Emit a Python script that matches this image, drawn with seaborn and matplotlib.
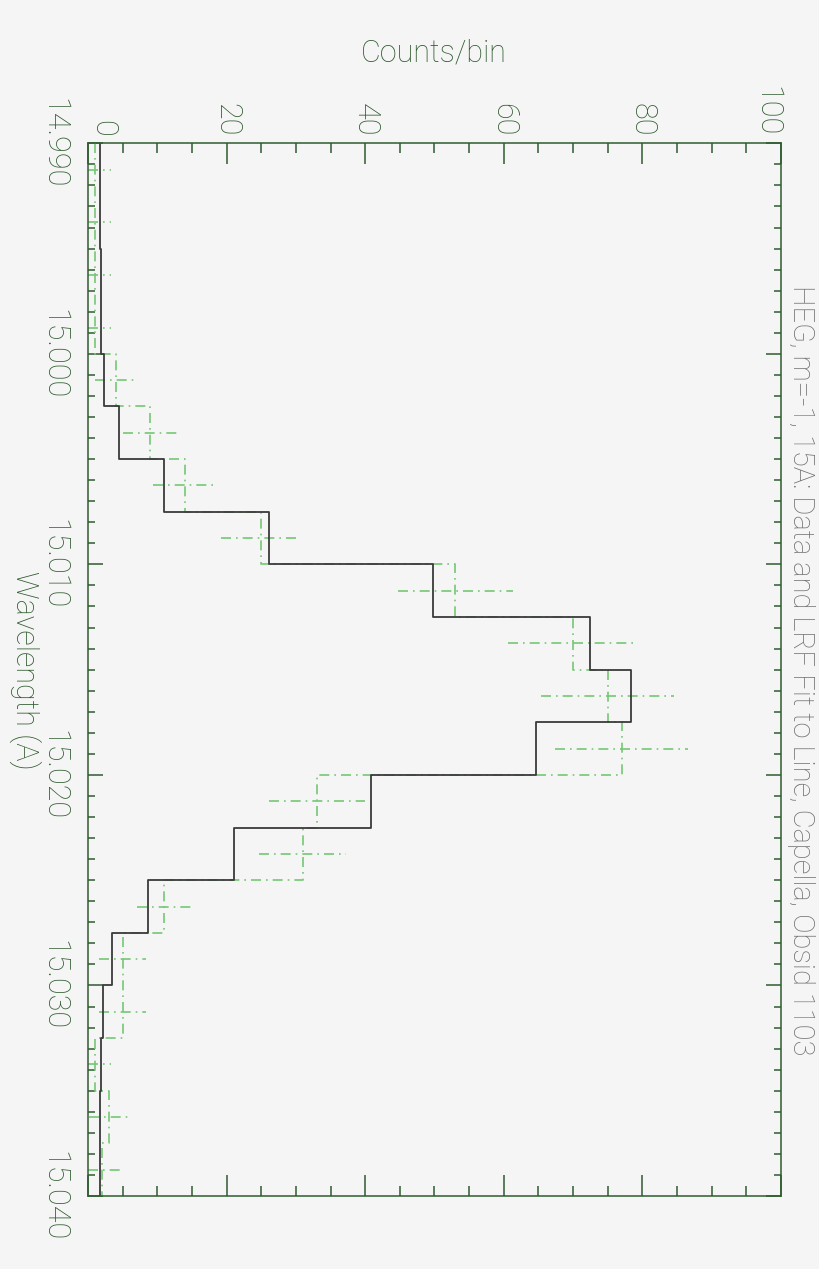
import numpy as np
import seaborn as sns
import matplotlib.pyplot as plt
from matplotlib.ticker import MultipleLocator

# wavelength bin edges (A), 0.0025 A bins
wl_edges = [14.990, 14.9925, 14.995, 14.9975, 15.000, 15.0025, 15.005, 15.0075,
            15.010, 15.0125, 15.015, 15.0175, 15.020, 15.0225, 15.025, 15.0275,
            15.030, 15.0325, 15.035, 15.0375, 15.040]

# observed counts per bin and their error bar half widths
data_counts = [1, 1, 1, 1, 4, 9, 14, 25, 53, 70, 75, 77, 33, 31, 11, 5, 5, 1, 3, 2]
data_err = [2.3, 2.3, 2.3, 2.3, 3.0, 4.0, 4.6, 5.8, 8.3, 9.4, 9.6, 9.6, 6.9, 6.3,
            4.0, 3.4, 3.4, 2.3, 2.9, 2.6]

# LRF model fit
model_counts = [1.7, 1.7, 1.9, 1.9, 2.35, 4.5, 11.0, 26.1, 49.8, 72.4, 78.4, 64.7,
                40.8, 21.0, 8.7, 3.4, 2.1, 1.9, 1.75, 1.75]

count_ticks = [0, 20, 40, 60, 80, 100]
wl_ticks = [14.990, 15.000, 15.010, 15.020, 15.030, 15.040]

title = "HEG, m=-1, 15A: Data and LRF Fit to Line, Capella, Obsid 1103"

axis_green = "#2f5c2f"
data_green = "#74c874"
bg = "#f5f5f5"

sns.set_theme(style="ticks", rc={"figure.facecolor": bg, "axes.facecolor": bg,
                                 "axes.edgecolor": axis_green, "axes.linewidth": 1.1})
plt.rcParams["font.family"] = ["Roboto", "DejaVu Sans"]
plt.rcParams["font.weight"] = "light"

fig = plt.figure(figsize=(8.2, 12.69), dpi=100)
ax = fig.add_axes([88 / 820, 1 - 1196 / 1269, 693 / 820, 1052.7 / 1269])

edges = np.array(wl_edges)
centers = (edges[:-1] + edges[1:]) / 2
dash_dot = (0, (6, 3, 1, 3))

# data: dash-dot histogram plus horizontal error bars
sns.lineplot(x=data_counts + data_counts[-1:], y=wl_edges, sort=False, estimator=None,
             drawstyle="steps-pre", color=data_green, lw=1.2, linestyle=dash_dot, ax=ax)
cnt = np.array(data_counts, dtype=float)
err = np.array(data_err)
ax.hlines(centers, np.clip(cnt - err, 0, None), cnt + err, colors=data_green,
          linestyles=[dash_dot], lw=1.2)

# model
sns.lineplot(x=model_counts + model_counts[-1:], y=wl_edges, sort=False, estimator=None,
             drawstyle="steps-pre", color="#3a3a3a", lw=1.3, ax=ax)

ax.set_xlim(0, 100)
ax.set_ylim(15.040, 14.990)
ax.set_xlabel("")
ax.set_ylabel("")

ax.xaxis.tick_top()
ax.set_xticks(count_ticks)
ax.set_xticklabels([str(t) for t in count_ticks], rotation=270, va="bottom")
ax.xaxis.set_minor_locator(MultipleLocator(5))
ax.set_yticks(wl_ticks)
ax.set_yticklabels([f"{t:.3f}" for t in wl_ticks], rotation=270, va="center")
ax.yaxis.set_minor_locator(MultipleLocator(0.001))

ax.tick_params(axis="x", which="both", direction="in", top=True, bottom=True,
               labeltop=True, labelbottom=False, colors=axis_green, labelsize=22, pad=5)
ax.tick_params(axis="x", which="major", length=15, width=1.1)
ax.tick_params(axis="x", which="minor", length=7.5, width=1.1)
ax.tick_params(axis="y", which="both", direction="in", left=True, right=True,
               labelleft=True, labelright=False, colors=axis_green, labelsize=22, pad=14)
ax.tick_params(axis="y", which="major", length=11, width=1.1)
ax.tick_params(axis="y", which="minor", length=5, width=1.1)

# end labels sit inside the frame
xlabels = ax.get_xticklabels()
xlabels[0].set_ha("left")
xlabels[-1].set_ha("right")

for s in ax.spines.values():
    s.set_visible(True)
    s.set_color(axis_green)

fig.text(434 / 820, 1 - 53 / 1269, "Counts/bin", ha="center", va="center",
         fontsize=22, color=axis_green)
fig.text(25 / 820, 1 - 670 / 1269, "Wavelength (A)", rotation=270, ha="center",
         va="center", fontsize=22, color=axis_green)
fig.text(801 / 820, 1 - 670 / 1269, title, rotation=270, ha="center", va="center",
         fontsize=21, color="#707070")

fig.savefig("out.png", dpi=100, facecolor=bg)
